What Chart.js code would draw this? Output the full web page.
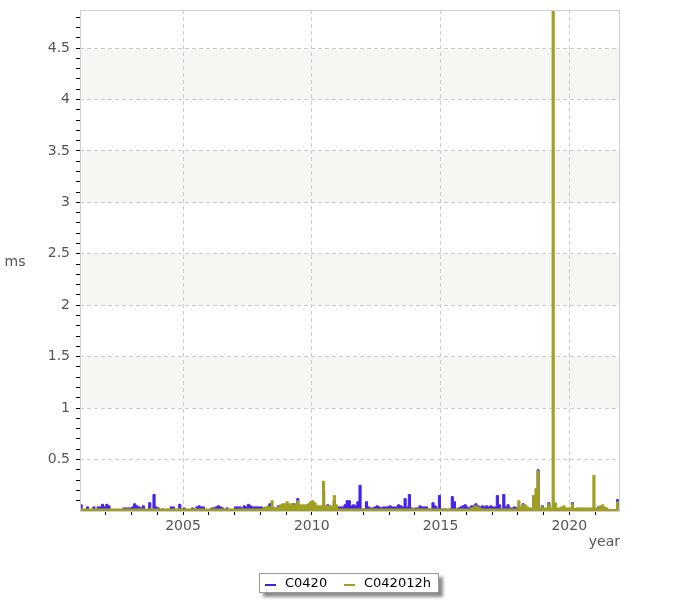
<!DOCTYPE html>
<html>
<head>
<meta charset="utf-8">
<script src="https://cdn.jsdelivr.net/npm/chart.js@4/dist/chart.umd.min.js"></script>
<style>
  body { margin: 0; background: #fff; }
  #wrap { position: relative; width: 700px; height: 600px; }
  #legend {
    position: absolute; left: 259px; top: 573px; width: 178px; height: 18px;
    border: 1px solid #999; background: #fff;
    box-shadow: 4px 4px 3px rgba(0,0,0,0.45);
    font: 13px "DejaVu Sans", sans-serif; color: #000;
  }
  #legend .mark { position: absolute; top: 10px; width: 11px; height: 2px; }
  #legend .txt { position: absolute; top: 0; line-height: 18px; }
</style>
</head>
<body>
<div id="wrap">
  <canvas id="myChart" width="700" height="600"></canvas>
  <div id="legend">
    <span class="mark" style="left:5px;background:#4422ee"></span>
    <span class="txt" style="left:25px">C0420</span>
    <span class="mark" style="left:84px;background:#a0a020"></span>
    <span class="txt" style="left:104px">C042012h</span>
  </div>
</div>
<script>
// monthly values, Jan 2001 .. Dec 2021
const startYear = 2001;

const c0420 = [
  0.06, 0.01, 0.01, 0.04, 0.01, 0.01, 0.04, 0.01, 0.04, 0.04, 0.065, 0.04, // 2001
  0.065, 0.05, 0.01, 0.01, 0.01, 0.01, 0.01, 0.01, 0.03, 0.03, 0.03, 0.03, // 2002
  0.04, 0.07, 0.05, 0.04, 0.03, 0.05, 0.01, 0.01, 0.08, 0.01, 0.16, 0.04,  // 2003
  0.03, 0.01, 0.02, 0.01, 0.01, 0.01, 0.04, 0.04, 0.01, 0.01, 0.065, 0.01, // 2004
  0.03, 0.01, 0.01, 0.01, 0.03, 0.01, 0.04, 0.05, 0.04, 0.04, 0.01, 0.01,  // 2005
  0.01, 0.03, 0.03, 0.04, 0.05, 0.04, 0.03, 0.01, 0.03, 0.01, 0.01, 0.01,  // 2006
  0.04, 0.04, 0.04, 0.03, 0.05, 0.04, 0.065, 0.05, 0.04, 0.04, 0.04, 0.04, // 2007
  0.04, 0.03, 0.03, 0.04, 0.07, 0.04, 0.03, 0.03, 0.05, 0.05, 0.06, 0.06,  // 2008
  0.07, 0.06, 0.06, 0.07, 0.06, 0.12, 0.05, 0.05, 0.05, 0.05, 0.06, 0.08,  // 2009
  0.08, 0.06, 0.04, 0.04, 0.04, 0.2, 0.04, 0.06, 0.04, 0.04, 0.1, 0.04,    // 2010
  0.04, 0.04, 0.04, 0.06, 0.1, 0.1, 0.05, 0.06, 0.05, 0.09, 0.25, 0.02,    // 2011
  0.02, 0.09, 0.04, 0.03, 0.03, 0.04, 0.05, 0.04, 0.03, 0.04, 0.04, 0.04,  // 2012
  0.05, 0.04, 0.04, 0.04, 0.06, 0.05, 0.04, 0.12, 0.04, 0.16, 0.03, 0.02,  // 2013
  0.03, 0.03, 0.05, 0.04, 0.04, 0.04, 0.02, 0.02, 0.08, 0.05, 0.03, 0.15,  // 2014
  0.02, 0.02, 0.02, 0.01, 0.02, 0.14, 0.09, 0.02, 0.03, 0.04, 0.05, 0.06,  // 2015
  0.04, 0.03, 0.05, 0.05, 0.07, 0.05, 0.04, 0.05, 0.04, 0.05, 0.04, 0.05,  // 2016
  0.04, 0.04, 0.15, 0.06, 0.02, 0.16, 0.04, 0.06, 0.03, 0.03, 0.04, 0.03,  // 2017
  0.05, 0.03, 0.07, 0.04, 0.03, 0.02, 0.02, 0.15, 0.15, 0.4, 0.02, 0.05,   // 2018
  0.02, 0.02, 0.08, 0.02, 0.02, 0.02, 0.02, 0.02, 0.02, 0.02, 0.02, 0.02,  // 2019
  0.02, 0.08, 0.02, 0.02, 0.02, 0.02, 0.02, 0.02, 0.02, 0.02, 0.02, 0.02,  // 2020
  0.02, 0.04, 0.03, 0.03, 0.02, 0.02, 0.01, 0.01, 0.01, 0.01, 0.11, 0.02   // 2021
];

const c042012h = [
  0.02, 0.02, 0.02, 0.02, 0.02, 0.02, 0.02, 0.02, 0.02, 0.02, 0.02, 0.02,  // 2001
  0.02, 0.02, 0.02, 0.02, 0.02, 0.02, 0.02, 0.02, 0.02, 0.02, 0.02, 0.02,  // 2002
  0.02, 0.02, 0.02, 0.02, 0.02, 0.02, 0.02, 0.02, 0.02, 0.02, 0.02, 0.02,  // 2003
  0.02, 0.02, 0.02, 0.02, 0.02, 0.02, 0.02, 0.02, 0.02, 0.02, 0.02, 0.02,  // 2004
  0.02, 0.02, 0.02, 0.02, 0.02, 0.02, 0.02, 0.02, 0.02, 0.02, 0.02, 0.02,  // 2005
  0.02, 0.02, 0.02, 0.02, 0.02, 0.02, 0.02, 0.02, 0.02, 0.02, 0.02, 0.02,  // 2006
  0.02, 0.02, 0.02, 0.02, 0.02, 0.02, 0.02, 0.02, 0.02, 0.02, 0.02, 0.02,  // 2007
  0.02, 0.03, 0.04, 0.04, 0.04, 0.1, 0.03, 0.03, 0.04, 0.06, 0.07, 0.07,   // 2008
  0.09, 0.07, 0.07, 0.06, 0.07, 0.1, 0.06, 0.06, 0.06, 0.06, 0.07, 0.09,   // 2009
  0.1, 0.08, 0.05, 0.05, 0.05, 0.29, 0.05, 0.05, 0.05, 0.05, 0.15, 0.06,   // 2010
  0.02, 0.02, 0.02, 0.02, 0.02, 0.02, 0.02, 0.02, 0.02, 0.02, 0.02, 0.02,  // 2011
  0.02, 0.02, 0.02, 0.02, 0.02, 0.02, 0.02, 0.02, 0.02, 0.02, 0.02, 0.02,  // 2012
  0.02, 0.02, 0.02, 0.02, 0.02, 0.02, 0.02, 0.02, 0.02, 0.02, 0.02, 0.02,  // 2013
  0.02, 0.02, 0.02, 0.02, 0.02, 0.02, 0.02, 0.02, 0.02, 0.02, 0.02, 0.02,  // 2014
  0.02, 0.02, 0.02, 0.02, 0.02, 0.02, 0.02, 0.02, 0.02, 0.02, 0.02, 0.02,  // 2015
  0.02, 0.02, 0.03, 0.04, 0.05, 0.04, 0.03, 0.02, 0.02, 0.02, 0.02, 0.02,  // 2016
  0.02, 0.02, 0.02, 0.02, 0.02, 0.02, 0.02, 0.02, 0.02, 0.02, 0.02, 0.02,  // 2017
  0.1, 0.04, 0.06, 0.06, 0.04, 0.03, 0.03, 0.15, 0.22, 0.39, 0.03, 0.04,   // 2018
  0.03, 0.03, 0.07, 0.03, 4.87, 0.08, 0.03, 0.03, 0.04, 0.05, 0.03, 0.03,  // 2019
  0.03, 0.07, 0.02, 0.03, 0.03, 0.03, 0.03, 0.03, 0.03, 0.03, 0.03, 0.345, // 2020
  0.02, 0.03, 0.05, 0.06, 0.04, 0.03, 0.015, 0.015, 0.015, 0.015, 0.09, 0.02 // 2021
];

const xLabels = [2005, 2010, 2015, 2020];
const yLabels = [0.5, 1, 1.5, 2, 2.5, 3, 3.5, 4, 4.5];
const shadedBands = [[1, 1.5], [2, 2.5], [3, 3.5], [4, 4.5]];

const xMinor = [];
for (let yr = 2002; yr <= 2021; yr++) xMinor.push(yr);
const yMinor = [];
for (let i = 1; i <= 48; i++) yMinor.push(i / 10);

const toPoints = (arr) => arr.map((v, i) => ({ x: startYear + i / 12, y: v }));
const isMajorY = (v) => yLabels.some(l => Math.abs(l - v) < 1e-6);
const isMajorX = (v) => xLabels.includes(v);

const decor = {
  id: "decor",
  beforeDraw(chart) {
    const { ctx, chartArea: a, scales: { y } } = chart;
    ctx.save();
    ctx.fillStyle = "#f6f6f2";
    shadedBands.forEach(([lo, hi]) => {
      const t = y.getPixelForValue(hi), b = y.getPixelForValue(lo);
      ctx.fillRect(a.left, t, a.right - a.left, b - t);
    });
    ctx.restore();
  },
  afterDatasetsDraw(chart) {
    const { ctx, chartArea: a } = chart;
    ctx.save();
    ctx.strokeStyle = "#d0d0d0";
    ctx.lineWidth = 1;
    ctx.strokeRect(a.left + 0.5, a.top + 0.5, a.right - a.left - 1, a.bottom - a.top);
    ctx.fillStyle = "#555";
    ctx.font = '14px "DejaVu Sans"';
    ctx.textBaseline = "middle";
    ctx.textAlign = "center";
    ctx.fillText("ms", 15, 262);
    ctx.textAlign = "right";
    ctx.fillText("year", a.right, 542);
    ctx.restore();
  }
};

const canvas = document.getElementById("myChart");
let myChart = new Chart(canvas, {
  type: "line",
  data: {
    datasets: [
      {
        label: "C0420",
        data: toPoints(c0420),
        borderColor: "#4422ee",
        backgroundColor: "#4422ee",
        borderWidth: 1,
        stepped: true,
        fill: "origin",
        pointRadius: 0,
        order: 1
      },
      {
        label: "C042012h",
        data: toPoints(c042012h),
        borderColor: "#a0a020",
        backgroundColor: "#a0a020",
        borderWidth: 1,
        stepped: true,
        fill: "origin",
        pointRadius: 0,
        order: 0
      }
    ]
  },
  options: {
    responsive: false,
    animation: false,
    events: [],
    layout: { padding: { left: 0, right: 80, top: 10, bottom: 59 } },
    plugins: { legend: { display: false }, tooltip: { enabled: false } },
    scales: {
      x: {
        type: "linear",
        min: 2001,
        max: 2021.97,
        afterBuildTicks: (axis) => { axis.ticks = xMinor.map(v => ({ value: v })); },
        afterFit: (axis) => { axis.height = 30; axis.paddingLeft = 0; axis.paddingRight = 0; },
        ticks: {
          autoSkip: false,
          maxRotation: 0,
          padding: 3,
          color: "#555",
          font: { family: "DejaVu Sans", size: 14 },
          callback: (v) => (isMajorX(v) ? String(v) : "")
        },
        grid: {
          color: (c) => (c.tick && isMajorX(c.tick.value) ? "#cccccc" : "rgba(0,0,0,0)"),
          tickColor: "#000",
          tickLength: 4,
          tickBorderDash: [],
          lineWidth: 1
        },
        border: { display: false, dash: [4, 3] }
      },
      y: {
        min: 0,
        max: 4.87,
        afterBuildTicks: (axis) => { axis.ticks = yMinor.map(v => ({ value: v })); },
        afterFit: (axis) => { axis.width = 80; axis.paddingTop = 0; axis.paddingBottom = 0; },
        ticks: {
          autoSkip: false,
          padding: 6,
          color: "#555",
          font: { family: "DejaVu Sans", size: 14 },
          callback: (v) => (isMajorY(v) ? String(v) : "")
        },
        grid: {
          color: (c) => (c.tick && isMajorY(c.tick.value) ? "#cccccc" : "rgba(0,0,0,0)"),
          tickColor: "#000",
          tickLength: 4,
          tickBorderDash: [],
          lineWidth: 1
        },
        border: { display: false, dash: [4, 3] }
      }
    }
  },
  plugins: [decor]
});
</script>
</body>
</html>
